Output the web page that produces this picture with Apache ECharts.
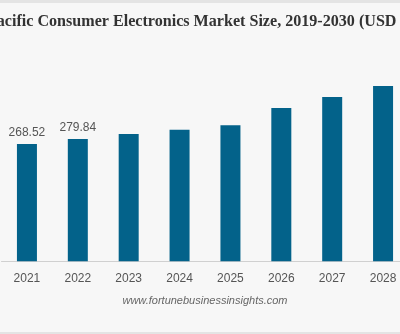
<!DOCTYPE html>
<html>
<head>
<meta charset="utf-8">
<script src="https://cdn.jsdelivr.net/npm/echarts@6/dist/echarts.min.js"></script>
<style>
html,body{margin:0;padding:0;background:#f7f7f7;overflow:hidden;width:400px;height:334px;}
#c{width:410px;height:334px;}
</style>
</head>
<body>
<div id="c"></div>
<script>
var titleText = "Asia Pacific Consumer Electronics Market Size, 2019-2030 (USD Billion)";
var sourceText = "www.fortunebusinessinsights.com";
var categories = ["2021", "2022", "2023", "2024", "2025", "2026", "2027", "2028"];
var values = [268.52, 279.84, 291.4, 301.2, 311.3, 350.9, 376.0, 401.3];
var labelledYears = ["2021", "2022"];

var chart = echarts.init(document.getElementById('c'), null, {renderer: 'canvas'});
var seriesData = values.map(function (v, i) {
  var item = {value: v};
  if (labelledYears.indexOf(categories[i]) >= 0) {
    item.label = {show: true, position: 'top', distance: 5, color: '#555', fontSize: 12,
      fontFamily: 'Liberation Sans, Arial, sans-serif', formatter: function (p) { return p.value.toFixed(2); }};
  }
  return item;
});
chart.setOption({
  backgroundColor: '#f7f7f7',
  animation: false,
  graphic: [
    {type: 'rect', shape: {x: 0, y: 0, width: 410, height: 3}, style: {fill: '#e4e4e4'}},
    {type: 'rect', shape: {x: 0, y: 332, width: 410, height: 2}, style: {fill: '#e4e4e4'}},
    {type: 'text', x: -47.5, y: 14, style: {text: titleText, font: 'bold 16.1px "Liberation Serif", "Times New Roman", serif', fill: '#333'}},
    {type: 'text', x: 205, y: 295, style: {text: sourceText, textAlign: 'center', font: 'italic 11px "Liberation Sans", Arial, sans-serif', fill: '#666'}}
  ],
  grid: {left: 1.5, width: 407, top: 64.7, bottom: 72.7, containLabel: false},
  xAxis: {
    type: 'category', data: categories,
    axisLine: {lineStyle: {color: '#d0d0d0'}},
    axisTick: {show: false},
    axisLabel: {color: '#555', fontSize: 12, fontFamily: 'Liberation Sans, Arial, sans-serif', margin: 11}
  },
  yAxis: {type: 'value', min: 0, max: 450, show: false, splitLine: {show: false}},
  series: [{
    type: 'bar', data: seriesData, barWidth: 20,
    itemStyle: {color: '#03628a'}
  }]
});
</script>
</body>
</html>
